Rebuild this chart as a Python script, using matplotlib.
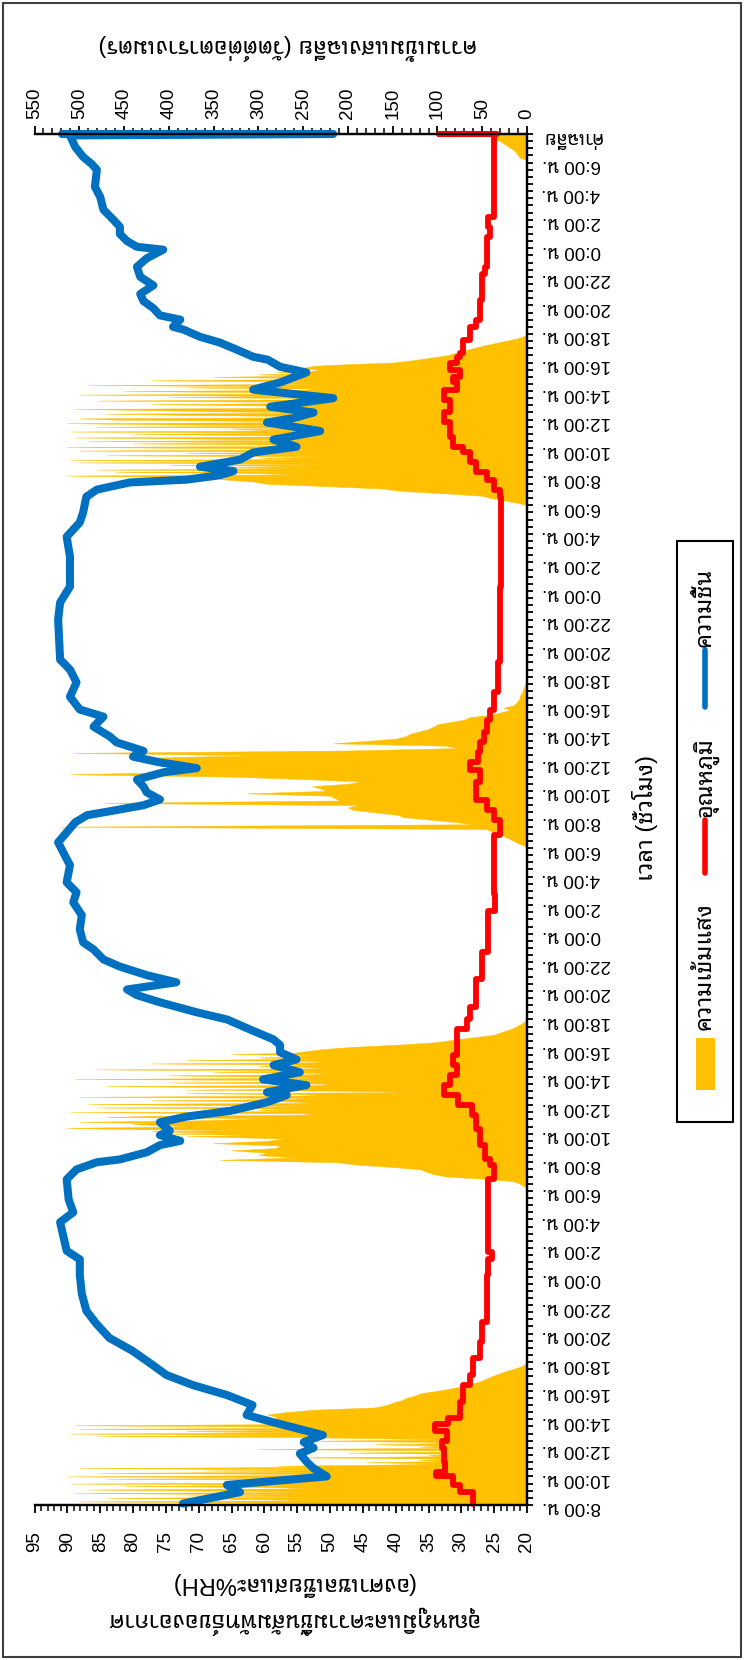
import numpy as np
import matplotlib
matplotlib.use("Agg")
import matplotlib.pyplot as plt
import matplotlib.font_manager as fm
from matplotlib.ft2font import FT2Font
from matplotlib.ticker import MultipleLocator, FixedLocator
from matplotlib.patches import Rectangle
from matplotlib.lines import Line2D

# ---- data (t = hours after 8:00 of day 1) ----
# light intensity W/m2; each day = start hour + pieces of (minutes between readings, readings)
d1_spiky = [240, 420, 250, 500, 230, 300, 470, 240, 380, 260, 505, 230,
            350, 490, 240, 280, 450, 230, 510, 250, 330, 220, 470, 230,
            514, 300, 220, 480, 240, 360, 220, 500, 230, 280, 150, 100,
            180, 90, 120, 85, 260, 95, 110, 80, 200, 90, 100, 300,
            85, 120, 95, 170, 90, 110, 240, 100, 160, 250, 480, 240,
            510, 260, 380, 250, 500, 240, 300, 505, 260, 290, 270, 285, 280]
d1_tail = [280, 290, 270, 240, 170, 157, 150, 140, 135, 125, 118, 100,
           85, 72, 62, 52, 46, 40, 33, 26, 17, 8, 3, 0]
d2_rise = [0, 0, 4, 8, 15, 45, 90, 105, 112, 119, 150, 190,
           212, 343, 260, 300, 290, 330, 280, 276, 350, 290, 272, 380]
d2_spiky = [300, 400, 350, 420, 330, 460, 514, 380, 400, 440, 420, 500,
            380, 330, 300, 470, 420, 250, 240, 510, 260, 300, 250, 480,
            230, 350, 490, 240, 260, 420, 280, 230, 500, 250, 230, 380,
            120, 200, 380, 240, 300, 470, 230, 220, 400, 250, 240, 505,
            230, 300, 400, 240, 220, 350, 240, 480, 220, 250, 300, 230,
            420, 240, 230, 380, 240, 300, 260, 240, 330, 261, 250, 240, 230]
d2_tail = [194, 140, 100, 82, 60, 38, 30, 22, 15, 10, 5, 2, 0]
d3_all = [0, 3, 10, 15, 20, 26, 32, 40, 45, 521, 60, 82,
          110, 138, 145, 170, 194, 200, 190, 473, 209, 215, 220, 313,
          225, 231, 240, 200, 186, 250, 330, 510, 387, 391, 370, 400,
          380, 410, 421, 300, 507, 200, 78, 90, 216, 180, 146, 135,
          131, 120, 110, 105, 100, 85, 70, 64, 40, 30, 19, 26,
          15, 12, 10, 8, 8, 6, 5, 4, 3, 2, 1, 0, 0]
d4_rise = [0, 10, 25, 40, 50, 90, 140, 160, 220, 290, 306, 343]
d4_spiky = [330, 420, 514, 250, 300, 460, 240, 480, 260, 350, 240, 400,
            230, 500, 260, 510, 240, 300, 220, 470, 250, 380, 240, 500,
            230, 320, 514, 250, 270, 440, 260, 490, 240, 350, 505, 230,
            300, 440, 250, 510, 260, 330, 240, 480, 250, 400, 514, 230,
            300, 460, 500, 240, 260, 380, 470, 230, 350, 420, 505, 240,
            250, 300, 420, 246, 260, 480, 250, 230, 400, 260, 500, 240,
            280, 450, 250, 230, 380, 260, 490, 240, 300, 240, 420, 250,
            260, 350, 240, 300, 250, 280, 240, 230, 260, 246, 240, 220]
d4_tail = [150, 127, 108, 90, 80, 71, 60, 50, 38, 25, 12, 4, 0]
d5_rise = [0, 0, 8, 10, 12, 14, 18, 22, 26, 30, 36, 41, 45]
light_days = [
    (0, [(5, d1_spiky), (10, d1_tail)]),
    (22, [(10, d2_rise), (5, d2_spiky), (10, d2_tail)]),
    (46, [(10, d3_all)]),
    (70, [(10, d4_rise), (5, d4_spiky), (10, d4_tail)]),
    (94, [(10, d5_rise)]),
]

# relative humidity (%RH)
hum_t = [0.1, 0.9, 1.4, 2.0, 2.6, 3.0, 3.6, 4.0, 4.4, 4.9, 5.8, 6.3, 7.0, 7.7,
         8.4, 9.1, 9.8, 10.8, 11.7, 12.7, 13.6, 14.8, 16.1, 17.2, 17.8, 19.8,
         20.5, 21.4, 22.8, 23.5, 24.0, 24.2, 24.7, 25.2, 25.5, 25.9, 26.2,
         26.8, 27.2, 27.6, 28.2, 28.7, 28.9, 29.4, 29.8, 30.3, 30.8, 31.2,
         31.7, 32.2, 32.6, 33.3, 34.0, 34.5, 35.2, 35.7, 36.1, 36.6, 37.1,
         37.7, 38.2, 38.9, 39.4, 40.3, 41.3, 42.2, 42.9, 43.6, 44.8, 45.5,
         46.4, 47.1, 47.8, 48.3, 48.5, 49.0, 49.4, 49.9, 50.3, 50.8, 51.3,
         51.6, 52.0, 52.4, 52.8, 53.4, 53.8, 54.5, 55.2, 55.7, 56.6, 57.6,
         58.5, 59.2, 62.0, 63.2, 64.3, 66.4, 67.8, 68.8, 69.5, 70.6, 71.1,
         71.6, 71.8, 72.1, 72.4, 72.7, 73.2, 73.7, 74.1, 74.6, 75.2, 75.8,
         76.1, 76.5, 76.9, 77.5, 78.1, 78.6, 79.3, 79.7, 80.2, 80.4, 80.9,
         81.4, 81.8, 82.3, 82.5, 83.0, 83.3, 83.8, 84.3, 84.8, 85.4, 86.0,
         86.7, 87.3, 87.9, 88.1, 88.5, 89.0, 89.5, 90.0, 90.7, 91.6, 92.3,
         93.5, 93.9, 94.4, 95.1, 95.6, 95.9, 96.0, 96.0]
hum_v = [72.4, 63.7, 65.7, 50.5, 52.6, 53.5, 54.6, 52.5, 54.0, 51.1, 58.7,
         62.7, 61.8, 65.7, 70.9, 74.9, 77.0, 80.1, 83.6, 85.6, 87.1, 87.8,
         88.1, 88.1, 90.1, 91.1, 89.1, 89.8, 90.1, 88.6, 85.5, 82.0, 77.9,
         75.9, 72.8, 75.9, 74.4, 75.9, 71.8, 65.2, 59.6, 56.6, 59.6, 53.6,
         60.2, 54.6, 58.6, 55.1, 57.6, 57.6, 58.6, 62.2, 65.7, 70.3, 75.9,
         79.4, 80.9, 73.4, 77.9, 82.0, 84.5, 86.0, 87.6, 88.1, 87.8, 89.1,
         88.6, 90.1, 89.6, 90.4, 91.4, 90.1, 88.8, 87.0, 84.5, 78.4, 75.9,
         77.9, 78.4, 79.4, 75.4, 70.3, 75.9, 80.0, 78.4, 82.5, 83.5, 86.0,
         84.5, 88.1, 89.6, 88.6, 89.6, 91.1, 91.4, 91.1, 89.6, 89.6, 90.1,
         88.1, 87.6, 87.1, 85.5, 80.5, 71.8, 66.8, 64.7, 69.8, 63.7, 61.7,
         55.1, 58.6, 51.5, 59.6, 55.6, 52.5, 59.1, 49.5, 61.7, 57.6, 53.6,
         57.6, 59.5, 61.7, 64.2, 66.8, 69.8, 72.3, 73.9, 72.8, 75.9, 76.9,
         78.4, 78.9, 76.9, 78.9, 79.4, 77.9, 75.4, 79.4, 80.9, 82.0, 82.0,
         83.0, 84.5, 85.0, 85.8, 85.5, 86.3, 87.6, 88.8, 89.3, 89.6, 49.5,
         90.8]

# air temperature (deg C)
temp_t = [0.1, 0.9, 1.4, 2.0, 2.3, 3.0, 4.0, 4.5, 5.2, 5.7, 6.1, 7.2, 8.4,
          9.1, 10.3, 11.4, 12.8, 16.1, 17.2, 17.7, 22.8, 23.8, 24.2, 25.2,
          26.3, 27.3, 28.0, 28.7, 29.4, 30.1, 30.8, 31.5, 32.2, 32.6, 33.3,
          34.0, 34.9, 36.8, 38.7, 41.6, 42.8, 46.9, 48.0, 48.7, 49.4, 50.6,
          51.5, 52.0, 52.7, 53.4, 54.1, 55.0, 55.7, 56.9, 59.0, 64.3, 70.6,
          71.1, 71.8, 72.3, 73.0, 73.7, 74.1, 74.8, 75.5, 75.8, 76.5, 77.4,
          78.1, 78.6, 79.0, 79.5, 80.0, 80.4, 80.7, 81.6, 82.5, 83.0, 84.4,
          86.2, 86.7, 88.8, 89.5, 90.2, 95.9, 96.0, 96.0]
temp_v = [28.2, 30.2, 31.2, 33.8, 32.5, 32.7, 33.0, 32.2, 34.0, 32.0, 30.2,
          29.7, 28.7, 28.2, 27.2, 26.9, 26.1, 25.9, 25.4, 25.9, 25.1, 25.6,
          26.4, 27.2, 27.7, 28.4, 30.5, 32.7, 31.7, 30.7, 31.2, 30.7, 30.7,
          30.7, 29.2, 28.7, 27.7, 26.9, 25.9, 24.9, 25.1, 24.1, 25.1, 26.1,
          27.7, 27.2, 28.7, 27.4, 27.2, 26.6, 26.1, 25.6, 25.1, 24.4, 24.1,
          23.9, 24.1, 25.1, 26.1, 27.7, 28.7, 29.7, 31.2, 31.7, 31.7, 32.7,
          31.7, 32.7, 30.7, 31.2, 30.2, 31.7, 30.7, 30.2, 29.7, 28.7, 27.7,
          27.2, 26.9, 26.4, 26.1, 25.6, 25.9, 25.1, 24.9, 33.4, 24.5]

day_labels = ["8:00 น.", "10:00 น.", "12:00 น.", "14:00 น.", "16:00 น.",
              "18:00 น.", "20:00 น.", "22:00 น.", "0:00 น.", "2:00 น.",
              "4:00 น.", "6:00 น."]
time_labels = day_labels * 4 + ["ค่าเฉลี่ย"]

# ---- fonts ----
def thai_fonts():
    names = []
    for f in fm.fontManager.ttflist:
        try:
            if ord("ก") in FT2Font(f.fname).get_charmap():
                names.append(f.name)
        except Exception:
            pass
    return set(names)

found = thai_fonts()
pref = ["Tahoma", "Noto Sans Thai Looped", "IBM Plex Sans Thai Looped", "Sarabun",
        "Noto Sans Thai", "Loma", "Garuda"]
thai = next((p for p in pref if p in found), sorted(found)[0] if found else "DejaVu Sans")
plt.rcParams["font.family"] = ["Liberation Sans", thai, "DejaVu Sans"]
FS = 13.5   # tick labels
TS = 17     # titles and legend (thai text)

W, H = 744, 1660
def fx(x):
    return x / W
def fy(y):
    return 1 - y / H

fig = plt.figure(figsize=(W / 100, H / 100), dpi=100)
ax = fig.add_axes([fx(34.5), fy(1505), fx(527) - fx(34.5), fy(134) - fy(1505)])
ax2 = ax.twiny()
ax.set_zorder(2)
ax2.set_zorder(1)
ax.patch.set_visible(False)

# light: x = W/m2 on the top scale, y = time
light_t, light_v = [], []
for start, pieces in light_days:
    t_end = None
    for step, vals in pieces:
        t0 = start if t_end is None else t_end + step / 60
        times = t0 + np.arange(len(vals)) * step / 60
        light_t.extend(times)
        light_v.extend(vals)
        t_end = times[-1]
ax2.fill_betweenx(light_t, 0, light_v, color="#FFC000", lw=0.3, edgecolor="#FFC000")

# temperature drawn as steps along the time axis
tt = np.repeat(temp_t, 2)[1:]
tv = np.repeat(temp_v, 2)[:-1]
ax.plot(tv, tt, color="#FF0000", lw=4.2, solid_joinstyle="round",
        solid_capstyle="round", clip_on=False)
ax.plot(hum_v, hum_t, color="#0070C0", lw=5.8, solid_joinstyle="round",
        solid_capstyle="round", clip_on=False)

ax.set_xlim(95, 20)
ax.set_ylim(0, 96)
ax2.set_xlim(550, 0)

for a in (ax, ax2):
    a.spines["left"].set_visible(False)
    for s in ("top", "bottom", "right"):
        a.spines[s].set_linewidth(1.6)

ax.xaxis.set_major_locator(MultipleLocator(5))
ax.xaxis.set_minor_locator(MultipleLocator(1))
ax.tick_params(axis="x", which="major", direction="out", length=6, width=1.3,
               labelrotation=90, labelsize=FS, pad=13)
ax.tick_params(axis="x", which="minor", direction="out", length=4, width=1.1)

ax2.xaxis.set_major_locator(MultipleLocator(50))
ax2.xaxis.set_minor_locator(MultipleLocator(10))
ax2.tick_params(axis="x", which="major", direction="out", length=6, width=1.3,
                labelrotation=90, labelsize=FS, pad=5)
ax2.tick_params(axis="x", which="minor", direction="out", length=4, width=1.1)

ax.yaxis.tick_right()
ax.yaxis.set_major_locator(FixedLocator(np.arange(0, 97, 2)))
ax.yaxis.set_minor_locator(MultipleLocator(0.5))
ax.set_yticklabels(time_labels)
ax.tick_params(axis="y", which="both", direction="out", length=4.5, width=1.3)
ax.tick_params(axis="y", which="major", labelrotation=180, labelsize=FS, pad=6)

fig.text(fx(292), fy(1603), "อุณหภูมิและความชื้นสัมพัทธ์ของอากาศ\n(องศาเซลเซียสและ%RH)",
         rotation=180, ha="center", va="center", fontsize=TS, linespacing=1.5)
fig.text(fx(288), fy(47), "ความเข้มแสงเฉลี่ย (วัตต์ต่อตารางเมตร)",
         rotation=180, ha="center", va="center", fontsize=TS)
fig.text(fx(645), fy(818), "เวลา (ชั่วโมง)", rotation=90, ha="center",
         va="center", fontsize=TS)

# legend drawn by hand so it can stand upright like the rest of the chart
fig.patches.append(Rectangle((fx(677), fy(1122)), fx(733) - fx(677), fy(541) - fy(1122),
                             transform=fig.transFigure, fill=False, ec="black", lw=1.5))
fig.patches.append(Rectangle((fx(696), fy(1090)), fx(715) - fx(696), fy(1038) - fy(1090),
                             transform=fig.transFigure, color="#FFC000", lw=0))
fig.lines.append(Line2D([fx(705), fx(705)], [fy(873), fy(820)], transform=fig.transFigure,
                        color="#FF0000", lw=4, solid_capstyle="round"))
fig.lines.append(Line2D([fx(705), fx(705)], [fy(707), fy(650)], transform=fig.transFigure,
                        color="#0070C0", lw=4, solid_capstyle="round"))
fig.text(fx(705), fy(1030), "ความเข้มแสง", rotation=90, ha="center", va="bottom", fontsize=TS)
fig.text(fx(705), fy(817), "อุณหภูมิ", rotation=90, ha="center", va="bottom", fontsize=TS)
fig.text(fx(705), fy(647), "ความชื้น", rotation=90, ha="center", va="bottom", fontsize=TS)

# outer chart border
fig.patches.append(Rectangle((0.004, 0.002), 0.992, 0.996, transform=fig.transFigure,
                             fill=False, ec="#404040", lw=1.5))

fig.savefig("out.png", dpi=100)
